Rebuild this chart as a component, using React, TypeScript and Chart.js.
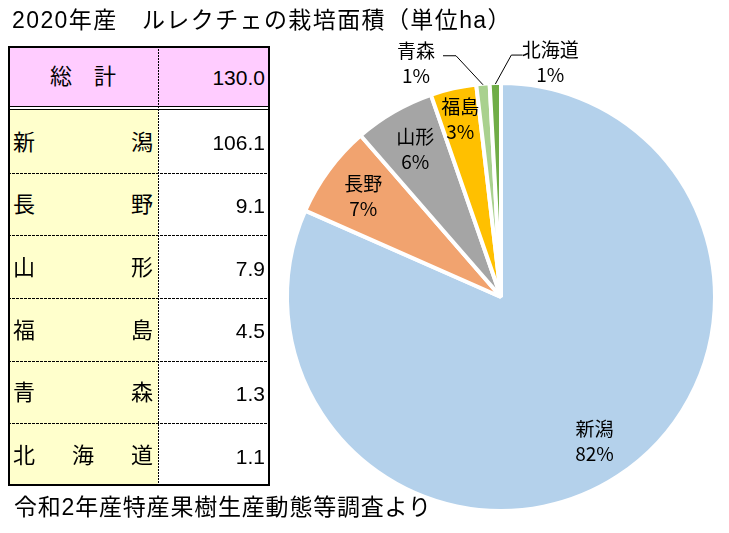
import React, { useEffect, useRef } from "react";
import { Chart, registerables } from "chart.js";

Chart.register(...registerables);

// ---- data ----
const prefectures = ["新潟", "長野", "山形", "福島", "青森", "北海道"];
const areas = [106.1, 9.1, 7.9, 4.5, 1.3, 1.1];
const sliceColors = ["#B4D1EB", "#F1A36F", "#A5A5A5", "#FFC000", "#A9D18E", "#70AD47"];
const titleText = "2020年産\u3000ルレクチェの栽培面積（単位ha）";
const sourceText = "令和2年産特産果樹生産動態等調査より";
const totalLabel = "総\u3000計";

// ---- label layout (style only) ----
type Lay =
  | { kind: "in"; r: number }
  | { kind: "out"; elbowDx: number; elbowDy: number; endDx: number; textDx: number; textDy: number };
const labelLayout: Lay[] = [
  { kind: "in", r: 0.8 },
  { kind: "in", r: 0.8 },
  { kind: "in", r: 0.8 },
  { kind: "in", r: 0.855 },
  { kind: "out", elbowDx: -27, elbowDy: -29, endDx: -40, textDx: -67, textDy: -22 },
  { kind: "out", elbowDx: 16, elbowDy: -29, endDx: 27, textDx: 55, textDy: -22 },
];

const cjk = '"Noto Sans CJK JP", sans-serif';
const mixed = '"Liberation Sans", "Noto Sans CJK JP", sans-serif';

function Table() {
  const total = areas.reduce((a, b) => a + b, 0);
  const left = 8, mid = 158, right = 270, top = 46, headBottom = 106, bodyTop = 110, bottom = 486;
  const rowH = (bottom - bodyTop) / prefectures.length;
  const els: React.ReactNode[] = [];
  const nameText: React.CSSProperties = { fontFamily: mixed, fontSize: 22, color: "#000", lineHeight: 1 };
  const numText: React.CSSProperties = { fontFamily: mixed, fontSize: 21, color: "#000", lineHeight: 1 };
  // header
  els.push(
    <div key="h1" style={{ position: "absolute", left, top, width: mid - left, height: headBottom - top, background: "#FFCCFF", display: "flex", alignItems: "center", justifyContent: "center", ...nameText, paddingTop: 2, boxSizing: "border-box" }}>{totalLabel}</div>
  );
  els.push(
    <div key="h2" style={{ position: "absolute", left: mid, top, width: right - mid, height: headBottom - top, background: "#FFCCFF", display: "flex", alignItems: "center", justifyContent: "flex-end", paddingRight: 5, paddingTop: 2, boxSizing: "border-box", ...numText }}>{total.toFixed(1)}</div>
  );
  prefectures.forEach((p, i) => {
    const t = bodyTop + i * rowH;
    els.push(
      <div key={"n" + i} style={{ position: "absolute", left, top: t, width: mid - left, height: rowH, background: "#FFFFCC", display: "flex", alignItems: "center", justifyContent: "space-between", padding: "3px 5px 0 5px", boxSizing: "border-box", ...nameText }}>
        {Array.from(p).map((c, k) => <span key={k}>{c}</span>)}
      </div>
    );
    els.push(
      <div key={"v" + i} style={{ position: "absolute", left: mid, top: t, width: right - mid, height: rowH, display: "flex", alignItems: "center", justifyContent: "flex-end", padding: "3px 5px 0 0", boxSizing: "border-box", ...numText }}>{areas[i].toFixed(1)}</div>
    );
    if (i > 0) {
      els.push(
        <div key={"l" + i} style={{ position: "absolute", left, top: Math.round(t), width: right - left, height: 1, background: "repeating-linear-gradient(to right, #000 0 3px, transparent 3px 4px)" }} />
      );
    }
  });
  // double line
  els.push(<div key="d1" style={{ position: "absolute", left, top: headBottom, width: right - left, height: 1, background: "#000" }} />);
  els.push(<div key="d2" style={{ position: "absolute", left, top: headBottom + 3, width: right - left, height: 1, background: "#000" }} />);
  // vertical dotted
  els.push(<div key="vd" style={{ position: "absolute", left: mid, top, width: 1, height: bottom - top, background: "repeating-linear-gradient(to bottom, #000 0 2px, transparent 2px 3px)" }} />);
  // outer border
  els.push(<div key="ob" style={{ position: "absolute", left, top, width: right - left, height: bottom - top, border: "2px solid #000", boxSizing: "border-box" }} />);
  return <>{els}</>;
}

export default function App() {
  const canvasRef = useRef<HTMLCanvasElement>(null);
  useEffect(() => {
    const total = areas.reduce((a, b) => a + b, 0);
    const labelPlugin = {
      id: "sliceLabels",
      afterDatasetsDraw(chart: any) {
        const ctx = chart.ctx as CanvasRenderingContext2D;
        const meta = chart.getDatasetMeta(0);
        ctx.save();
        ctx.font = `19px ${cjk}`;
        ctx.fillStyle = "#000";
        ctx.textAlign = "center";
        ctx.textBaseline = "middle";
        meta.data.forEach((el: any, i: number) => {
          const { x, y, startAngle, endAngle, outerRadius } = el.getProps(["x", "y", "startAngle", "endAngle", "outerRadius"], true);
          const m = (startAngle + endAngle) / 2;
          const pct = Math.round((areas[i] / total) * 100) + "%";
          const lay = labelLayout[i];
          if (lay.kind === "in") {
            const lx = x + Math.cos(m) * outerRadius * lay.r;
            const ly = y + Math.sin(m) * outerRadius * lay.r;
            ctx.fillText(prefectures[i], lx, ly - 12);
            ctx.fillText(pct, lx, ly + 13);
          } else {
            const ax = x + Math.cos(m) * (outerRadius - 1);
            const ay = y + Math.sin(m) * (outerRadius - 1);
            ctx.beginPath();
            ctx.moveTo(ax, ay);
            ctx.lineTo(ax + lay.elbowDx, ay + lay.elbowDy);
            ctx.lineTo(ax + lay.endDx, ay + lay.elbowDy);
            ctx.strokeStyle = "#000";
            ctx.lineWidth = 1;
            ctx.stroke();
            ctx.fillText(prefectures[i], ax + lay.textDx, ay + lay.textDy - 12);
            ctx.fillText(pct, ax + lay.textDx, ay + lay.textDy + 13);
          }
        });
        ctx.restore();
      },
    };
    const chart = new Chart(canvasRef.current!, {
      type: "pie",
      data: {
        labels: prefectures,
        datasets: [
          {
            data: areas,
            backgroundColor: sliceColors,
            borderColor: "#FFFFFF",
            borderWidth: 4,
          },
        ],
      },
      options: {
        responsive: false,
        animation: false,
        events: [],
        layout: { padding: { left: 285, right: 12, top: 81, bottom: 20 } },
        plugins: { legend: { display: false }, tooltip: { enabled: false } },
      },
      plugins: [labelPlugin],
    });
    return () => chart.destroy();
  }, []);

  return (
    <div style={{ position: "absolute", left: 0, top: 0, width: 729, height: 533, background: "#fff", overflow: "hidden" }}>
      <canvas ref={canvasRef} width={729} height={533} style={{ position: "absolute", left: 0, top: 0, width: 729, height: 533 }} />
      <div style={{ position: "absolute", left: 12, top: 4, height: 28, display: "flex", alignItems: "center", fontFamily: mixed, fontSize: 23, letterSpacing: 1.4, whiteSpace: "nowrap", color: "#000" }}>{titleText}</div>
      <Table />
      <div style={{ position: "absolute", left: 14, top: 491, height: 28, display: "flex", alignItems: "center", fontFamily: mixed, fontSize: 23, letterSpacing: 0.8, whiteSpace: "nowrap", color: "#000" }}>{sourceText}</div>
    </div>
  );
}
